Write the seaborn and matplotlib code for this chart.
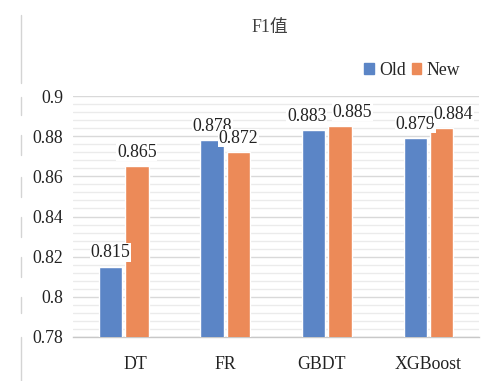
import pandas as pd
import matplotlib
matplotlib.use("Agg")
import matplotlib.pyplot as plt
import matplotlib.transforms as mtransforms
from matplotlib.lines import Line2D
from matplotlib.ticker import MultipleLocator
import seaborn as sns

# Data
models = ["DT", "FR", "GBDT", "XGBoost"]
old_f1 = [0.815, 0.878, 0.883, 0.879]
new_f1 = [0.865, 0.872, 0.885, 0.884]
versions = ["Old", "New"]
y_ticks = [0.78, 0.80, 0.82, 0.84, 0.86, 0.88, 0.90]
y_tick_labels = ["0.78", "0.8", "0.82", "0.84", "0.86", "0.88", "0.9"]

df = pd.DataFrame({
    "model": models * 2,
    "f1": old_f1 + new_f1,
    "version": ["Old"] * len(models) + ["New"] * len(models),
})

sns.set_style("white")
plt.rcParams["font.family"] = ["Liberation Serif", "Noto Sans CJK SC"]

blue = "#5B85C6"
orange = "#EC8A58"

fig = plt.figure(figsize=(4.86, 3.81), dpi=100)
ax = fig.add_axes([0.150, 0.1155, 0.836, 0.6325])

sns.barplot(
    data=df, x="model", y="f1", hue="version", hue_order=versions,
    palette=[blue, orange], saturation=1, width=0.52, gap=0.12, ax=ax,
    legend=False, zorder=3,
)

ax.set_ylim(0.78, 0.9)
ax.set_yticks(y_ticks)
ax.set_yticklabels(y_tick_labels)
ax.yaxis.set_minor_locator(MultipleLocator(0.004))
ax.grid(axis="y", which="major", color="#d9d9d9", linewidth=1.0, zorder=0)
ax.grid(axis="y", which="minor", color="#ebebeb", linewidth=1.0, zorder=0)
ax.set_axisbelow(True)
ax.set_xlabel("")
ax.set_ylabel("")
ax.tick_params(axis="y", length=0, pad=7, labelsize=12.8, labelcolor="#222222")
ax.tick_params(axis="x", length=0, pad=13.5, labelsize=12.8, labelcolor="#222222")

# category labels are not quite centred in the original
tick_nudge_px = {"DT": 12, "GBDT": -5}
for lbl in ax.get_xticklabels():
    dx = tick_nudge_px.get(lbl.get_text(), 0)
    if dx:
        lbl.set_transform(lbl.get_transform() +
                          mtransforms.ScaledTranslation(dx / 100, 0, fig.dpi_scale_trans))

for side in ["top", "right", "left"]:
    ax.spines[side].set_visible(False)
ax.spines["bottom"].set_color("#c8c8c8")
ax.spines["bottom"].set_linewidth(1.0)

# value labels with white boxes, nudged sideways where Excel moved them apart
nudge_px = {("Old", "GBDT"): -7, ("New", "GBDT"): 12, ("New", "XGBoost"): 12}
for version, cont in zip(versions, ax.containers):
    labels = ax.bar_label(cont, fmt="%.3f", padding=4, fontsize=12.8, color="#222222",
                          bbox=dict(facecolor="white", edgecolor="none", pad=0.5), zorder=4)
    for model, txt in zip(models, labels):
        dx = nudge_px.get((version, model), 0) * 0.72
        txt.xyann = (dx, txt.xyann[1])

# title
fig.text(0.556, 0.927, "F1值", ha="center", va="center", fontsize=12.8, color="#404040")

# legend
handles = [plt.Rectangle((0, 0), 1, 1, color=blue), plt.Rectangle((0, 0), 1, 1, color=orange)]
fig.legend(handles, versions, ncol=2, frameon=False, fontsize=12.8,
           loc="center right", bbox_to_anchor=(0.962, 0.815),
           handlelength=0.55, handleheight=0.55, handletextpad=0.3,
           columnspacing=0.3, borderaxespad=0)

# broken light border on the left edge
segments = [(15, 83), (97, 115), (135, 155), (177, 197), (217, 237), (257, 277), (297, 313), (337, 381)]
for y0, y1 in segments:
    fig.add_artist(Line2D([0.043, 0.043], [1 - y0 / 381, 1 - y1 / 381],
                          color="#d4d4d4", linewidth=1.0))

fig.savefig("out.png", dpi=100)
